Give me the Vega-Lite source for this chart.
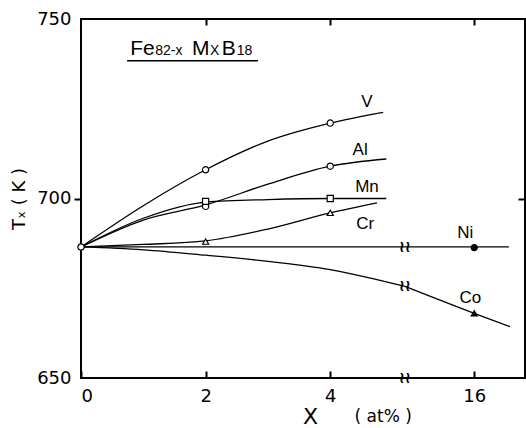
{
  "$schema": "https://vega.github.io/schema/vega-lite/v6.json",
  "width": 444,
  "height": 359,
  "autosize": "none",
  "padding": {"left": 81, "top": 19, "right": 1, "bottom": 50},
  "background": "white",
  "config": {
    "view": {"stroke": "black", "strokeWidth": 2},
    "axis": {"labelFont": "DejaVu Sans", "labelFontSize": 18, "labelColor": "black", "titleFont": "DejaVu Sans", "titleColor": "black", "domain": false, "grid": false}
  },
  "resolve": {"axis": {"x": "independent", "y": "independent"}},
  "layer": [
    {
      "data": {"values": [
        {"s": "V", "x": 0, "y": 686.5}, {"s": "V", "x": 1, "y": 698}, {"s": "V", "x": 2, "y": 708}, {"s": "V", "x": 3, "y": 716}, {"s": "V", "x": 4, "y": 721}, {"s": "V", "x": 4.85, "y": 724},
        {"s": "Al", "x": 0, "y": 686.5}, {"s": "Al", "x": 1, "y": 694}, {"s": "Al", "x": 2, "y": 698.2}, {"s": "Al", "x": 3, "y": 704}, {"s": "Al", "x": 4, "y": 709}, {"s": "Al", "x": 4.9, "y": 711},
        {"s": "Mn", "x": 0, "y": 686.5}, {"s": "Mn", "x": 1, "y": 694.5}, {"s": "Mn", "x": 2, "y": 699}, {"s": "Mn", "x": 3, "y": 699.7}, {"s": "Mn", "x": 4, "y": 700}, {"s": "Mn", "x": 4.9, "y": 700},
        {"s": "Cr", "x": 0, "y": 686.5}, {"s": "Cr", "x": 1, "y": 687.2}, {"s": "Cr", "x": 2, "y": 688.2}, {"s": "Cr", "x": 3, "y": 691.5}, {"s": "Cr", "x": 4, "y": 696}, {"s": "Cr", "x": 4.75, "y": 698.8},
        {"s": "Ni", "x": 0, "y": 686.5}, {"s": "Ni", "x": 5.2, "y": 686.5},
        {"s": "Ni2", "x": 13, "y": 686.5}, {"s": "Ni2", "x": 17.5, "y": 686.5},
        {"s": "Co", "x": 0, "y": 686.5}, {"s": "Co", "x": 1, "y": 685.7}, {"s": "Co", "x": 2, "y": 684.2}, {"s": "Co", "x": 3, "y": 682.5}, {"s": "Co", "x": 4, "y": 680.2}, {"s": "Co", "x": 5.2, "y": 675.5},
        {"s": "Co2", "x": 13, "y": 675.5}, {"s": "Co2", "x": 16, "y": 668}, {"s": "Co2", "x": 17.55, "y": 664.3}
      ]},
      "mark": {"type": "line", "interpolate": "monotone", "color": "black", "strokeWidth": 1.3},
      "encoding": {
        "x": {"field": "x", "type": "quantitative",
          "scale": {"domain": [0, 5.2, 13, 18.2], "range": [0, 324, 324, 444], "nice": false, "zero": false},
          "axis": {"orient": "bottom", "offset": -7, "values": [0, 2, 4, 16], "ticks": true, "tickSize": 7, "tickColor": "black", "tickWidth": 2, "labelPadding": 9, "title": "X", "titleFontSize": 22, "titleFontWeight": "normal", "titleX": 229, "titlePadding": 1}},
        "y": {"field": "y", "type": "quantitative",
          "scale": {"domain": [650, 750], "nice": false, "zero": false},
          "axis": {"orient": "left", "values": [650, 700, 750], "ticks": true, "tickSize": 7, "tickColor": "black", "tickWidth": 2, "tickOpacity": {"condition": {"test": "datum.value == 700", "value": 1}, "value": 0}, "labelPadding": 3, "title": "Tₓ  ( K )", "titleFontSize": 18, "titleFontWeight": "normal", "titlePadding": 8}},
        "detail": {"field": "s"}
      }
    },
    {
      "data": {"values": [
        {"s": "base", "x": 0, "y": 686.5},
        {"s": "V", "x": 2, "y": 708}, {"s": "V", "x": 4, "y": 721},
        {"s": "Al", "x": 2, "y": 697.8}, {"s": "Al", "x": 4, "y": 709},
        {"s": "Mn", "x": 2, "y": 699.2}, {"s": "Mn", "x": 4, "y": 700},
        {"s": "Cr", "x": 2, "y": 688}, {"s": "Cr", "x": 4, "y": 696},
        {"s": "Ni", "x": 16, "y": 686.3},
        {"s": "Co", "x": 16, "y": 668}
      ]},
      "mark": {"type": "point", "filled": true, "stroke": "black", "strokeWidth": 1.2, "opacity": 1},
      "encoding": {
        "x": {"field": "x", "type": "quantitative",
          "axis": {"orient": "top", "offset": -6, "values": [2, 4, 16], "ticks": true, "tickSize": 6, "tickColor": "black", "tickWidth": 2, "labels": false, "title": null}},
        "y": {"field": "y", "type": "quantitative",
          "axis": {"orient": "right", "values": [700], "ticks": true, "tickSize": -7, "tickColor": "black", "tickWidth": 2, "labels": false, "title": null}},
        "shape": {"field": "s", "type": "nominal", "legend": null,
          "scale": {"domain": ["base", "V", "Al", "Mn", "Cr", "Ni", "Co"], "range": ["circle", "circle", "circle", "square", "triangle-up", "circle", "triangle-up"]}},
        "fill": {"field": "s", "type": "nominal", "legend": null,
          "scale": {"domain": ["base", "V", "Al", "Mn", "Cr", "Ni", "Co"], "range": ["white", "white", "white", "white", "white", "black", "black"]}},
        "size": {"field": "s", "type": "nominal", "legend": null,
          "scale": {"domain": ["base", "V", "Al", "Mn", "Cr", "Ni", "Co"], "range": [40, 36, 36, 30, 50, 45, 60]}}
      }
    },
    {
      "data": {"values": [
        {"t": "V", "x": 4.59, "y": 727},
        {"t": "Al", "x": 4.48, "y": 713.5},
        {"t": "Mn", "x": 4.59, "y": 703.3},
        {"t": "Cr", "x": 4.56, "y": 692.9},
        {"t": "Ni", "x": 15.61, "y": 690.3},
        {"t": "Co", "x": 15.83, "y": 672.2}
      ]},
      "mark": {"type": "text", "font": "Liberation Sans", "fontSize": 17, "color": "black", "align": "center", "baseline": "middle"},
      "encoding": {
        "x": {"field": "x", "type": "quantitative", "axis": null},
        "y": {"field": "y", "type": "quantitative", "axis": null},
        "text": {"field": "t"}
      }
    },
    {
      "data": {"values": [
        {"t": "Fe", "x": 0.79, "y": 740},
        {"t": "M", "x": 1.78, "y": 740},
        {"t": "B", "x": 2.26, "y": 740}
      ]},
      "mark": {"type": "text", "font": "Liberation Sans", "fontSize": 21, "color": "black", "align": "left", "baseline": "alphabetic"},
      "encoding": {
        "x": {"field": "x", "type": "quantitative", "axis": null},
        "y": {"field": "y", "type": "quantitative", "axis": null},
        "text": {"field": "t"}
      }
    },
    {
      "data": {"values": [
        {"t": "82-x", "x": 1.19, "y": 740},
        {"t": "X", "x": 2.07, "y": 740},
        {"t": "18", "x": 2.5, "y": 740}
      ]},
      "mark": {"type": "text", "font": "Liberation Sans", "fontSize": 14, "color": "black", "align": "left", "baseline": "alphabetic"},
      "encoding": {
        "x": {"field": "x", "type": "quantitative", "axis": null},
        "y": {"field": "y", "type": "quantitative", "axis": null},
        "text": {"field": "t"}
      }
    },
    {
      "data": {"values": [{"x": 0.74, "x2": 2.84, "y": 738.4}]},
      "mark": {"type": "rule", "color": "black", "strokeWidth": 1.5},
      "encoding": {
        "x": {"field": "x", "type": "quantitative", "axis": null},
        "x2": {"field": "x2"},
        "y": {"field": "y", "type": "quantitative", "axis": null}
      }
    },
    {
      "data": {"values": [
        {"x": 5.2, "y": 686.5},
        {"x": 5.2, "y": 675.5},
        {"x": 5.2, "y": 650}
      ]},
      "mark": {"type": "text", "text": "≀≀", "font": "DejaVu Sans", "fontSize": 16, "fontWeight": "bold", "color": "black", "align": "center", "baseline": "middle"},
      "encoding": {
        "x": {"field": "x", "type": "quantitative", "axis": null},
        "y": {"field": "y", "type": "quantitative", "axis": null}
      }
    },
    {
      "data": {"values": [{"t": "( at% )", "x": 4.85, "y": 639.2}]},
      "mark": {"type": "text", "font": "DejaVu Sans", "fontSize": 17, "color": "black", "align": "center", "baseline": "middle"},
      "encoding": {
        "x": {"field": "x", "type": "quantitative", "axis": null},
        "y": {"field": "y", "type": "quantitative", "axis": null},
        "text": {"field": "t"}
      }
    }
  ]
}
